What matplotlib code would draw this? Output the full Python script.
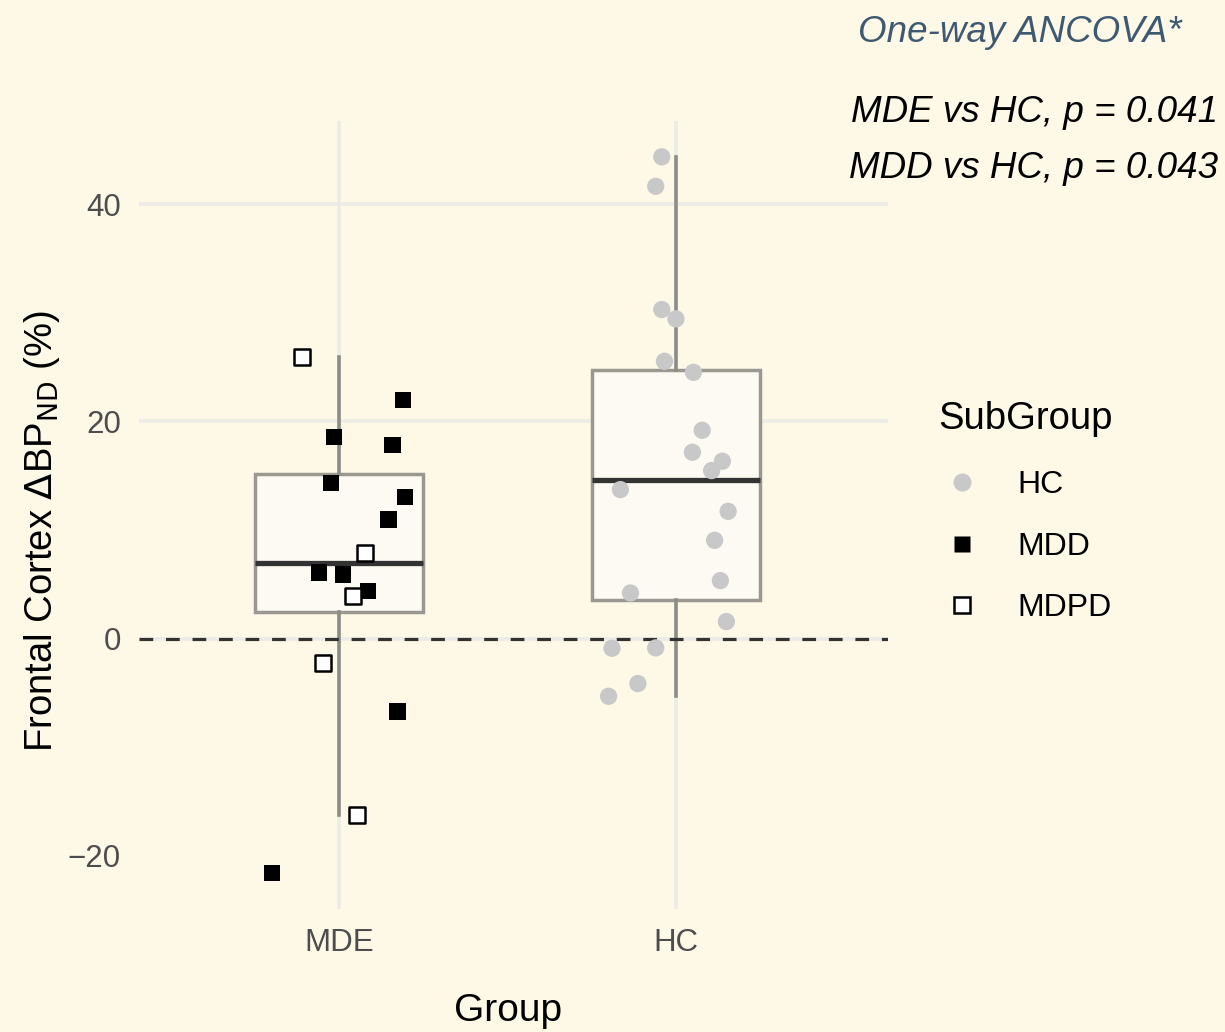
import matplotlib
matplotlib.use("Agg")
import matplotlib.pyplot as plt
from matplotlib.lines import Line2D
import numpy as np

plt.rcParams['font.family'] = ['Liberation Sans', 'DejaVu Sans']

# ---------------- data ----------------
groups = ["MDE", "HC"]
subgroups = ["HC", "MDD", "MDPD"]

# MDE group: MDD subjects (jitter offset, value)
mdd_jitter = [0.19, -0.015, 0.158, -0.024, 0.196, 0.146, -0.06, 0.012, 0.086, 0.173, -0.20]
mdd_values = [22.0, 18.6, 17.8, 14.3, 13.0, 10.96, 6.08, 5.9, 4.42, -6.72, -21.6]

# MDE group: MDPD subjects
mdpd_jitter = [-0.11, 0.077, 0.042, -0.048, 0.054]
mdpd_values = [25.97, 7.92, 3.96, -2.21, -16.2]

# HC group
hc_jitter = [-0.042, -0.06, -0.042, 0.0, -0.034, 0.052, 0.078, 0.049, 0.138, 0.106,
             -0.165, 0.155, 0.115, 0.132, -0.135, 0.15, -0.19, -0.06, -0.113, -0.20]
hc_values = [44.36, 41.65, 30.3, 29.44, 25.53, 24.52, 19.18, 17.16, 16.33, 15.47,
             13.72, 11.72, 9.05, 5.34, 4.2, 1.57, -0.89, -0.86, -4.14, -5.31]

yticks = [-20, 0, 20, 40]
ann_title = "One-way ANCOVA*"
ann_lines = ["MDE vs HC, p = 0.041", "MDD vs HC, p = 0.043"]

# ---------------- figure ----------------
W, H = 1225, 1032
bg = "#FEF8E7"
fig = plt.figure(figsize=(W / 100, H / 100), dpi=100, facecolor=bg)
ax = fig.add_axes([139 / W, 1 - 909 / H, (888 - 139) / W, (909 - 121) / H])
ax.set_facecolor(bg)

mde_all = mdd_values + mdpd_values

bp = ax.boxplot([mde_all, hc_values], positions=[0, 1], widths=0.5,
                whis=1.5, showfliers=False, patch_artist=True,
                boxprops=dict(facecolor="#FDFAF3", edgecolor="#9A9891", linewidth=2.5),
                medianprops=dict(color="#333333", linewidth=3.8, solid_capstyle="butt"),
                whiskerprops=dict(color="#8E8C87", linewidth=2.6),
                capprops=dict(linewidth=0), zorder=2)

# reference line at zero
ax.axhline(0, color="#333333", linewidth=2.3, linestyle=(0, (4.3, 4.0)), zorder=2.5)

# points
ax.scatter(np.array(hc_jitter) + 1, hc_values, s=155, marker="o",
           color="#C8C8C8", edgecolors="none", zorder=3)
ax.scatter(np.array(mdd_jitter) + 0, mdd_values, s=135, marker="s",
           color="black", edgecolors="none", zorder=3)
ax.scatter(np.array(mdpd_jitter) + 0, mdpd_values, s=125, marker="s",
           facecolor="white", edgecolors="black", linewidths=1.8, zorder=3)

# axes styling
ax.set_xlim(-0.595, 1.63)
ax.set_ylim(-24.9, 47.66)
ax.set_xticks([0, 1])
ax.set_xticklabels(groups)
ax.set_yticks(yticks)
for s in ax.spines.values():
    s.set_visible(False)
ax.tick_params(axis="both", length=0, labelsize=22.5, labelcolor="#4D4D4D")
ax.tick_params(axis="x", pad=14)
ax.tick_params(axis="y", pad=13)
ax.grid(True, color="#ECEBE6", linewidth=2.6, zorder=0)
ax.set_axisbelow(True)
for val, gl in zip(yticks, ax.yaxis.get_gridlines()):
    if val < 0:
        gl.set_visible(False)

ax.set_xlabel("Group", fontsize=28, labelpad=30)
ax.xaxis.set_label_coords((508 - 139) / 749, -(1021 - 909) / 788)
ax.xaxis.label.set_va("baseline")
ax.set_ylabel(r"Frontal Cortex $\Delta$BP$_{\mathrm{ND}}$ (%)", fontsize=27.5)
ax.yaxis.set_label_coords(-(139 - 62) / 749, 0.48)

# annotations
fig.text(1182 / W, 1 - 42 / H, ann_title, ha="right", va="baseline",
         fontsize=26.5, style="italic", color="#3E5A72")
fig.text(1218 / W, 1 - 122 / H, ann_lines[0], ha="right", va="baseline",
         fontsize=26.5, style="italic", color="black")
fig.text(1218 / W, 1 - 178 / H, ann_lines[1], ha="right", va="baseline",
         fontsize=26.5, style="italic", color="black")

# legend
handles = [
    Line2D([], [], marker="o", linestyle="none", markersize=13, markerfacecolor="#C8C8C8",
           markeredgecolor="none"),
    Line2D([], [], marker="s", linestyle="none", markersize=11.5, markerfacecolor="black",
           markeredgecolor="none"),
    Line2D([], [], marker="s", linestyle="none", markersize=11, markerfacecolor="white",
           markeredgecolor="black", markeredgewidth=1.8),
]
leg = fig.legend(handles, subgroups, title="SubGroup", loc="upper left",
                 bbox_to_anchor=(925 / W, 1 - 388 / H), frameon=False,
                 fontsize=23, title_fontsize=27.5, labelspacing=0.99,
                 handletextpad=1.0, handlelength=1.5, alignment="left",
                 borderaxespad=0)
leg._legend_box.sep = 24

fig.savefig("out.png", dpi=100, facecolor=bg)
